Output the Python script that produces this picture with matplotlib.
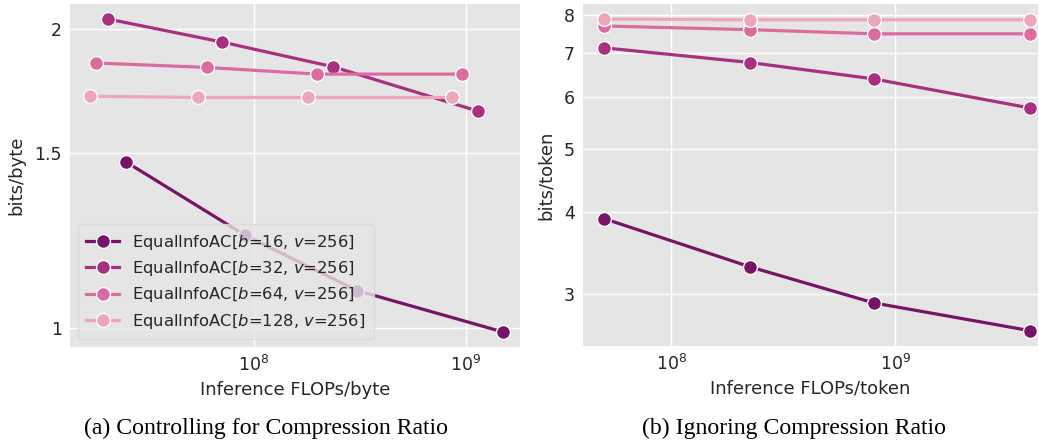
import matplotlib
matplotlib.use("Agg")
import matplotlib.pyplot as plt
from matplotlib.ticker import FixedLocator, NullLocator, FixedFormatter

# ---- data ----
labels = ["EqualInfoAC[$b$=16, $v$=256]", "EqualInfoAC[$b$=32, $v$=256]",
          "EqualInfoAC[$b$=64, $v$=256]", "EqualInfoAC[$b$=128, $v$=256]"]
colors = ['#771467', '#a8307f', '#dc6b9f', '#eea7b9']

# (a) controlling for compression ratio: FLOPs/byte vs bits/byte
a_x_b16 = [2.47e7, 9.07e7, 3.06e8, 1.50e9]
a_y_b16 = [1.471, 1.240, 1.091, 0.991]
a_x_b32 = [2.03e7, 7.06e7, 2.36e8, 1.14e9]
a_y_b32 = [2.048, 1.941, 1.833, 1.654]
a_x_b64 = [1.80e7, 6.00e7, 1.98e8, 9.57e8]
a_y_b64 = [1.849, 1.830, 1.802, 1.802]
a_x_b128 = [1.67e7, 5.45e7, 1.80e8, 8.60e8]
a_y_b128 = [1.712, 1.707, 1.707, 1.707]

# (b) ignoring compression ratio: FLOPs/token vs bits/token
b_x = [5.0e7, 2.25e8, 8.0e8, 3.97e9]
b_y_b16 = [3.908, 3.296, 2.904, 2.634]
b_y_b32 = [7.13, 6.77, 6.39, 5.77]
b_y_b64 = [7.70, 7.60, 7.49, 7.49]
b_y_b128 = [7.89, 7.87, 7.87, 7.87]

a_ticks = [1, 1.5, 2]
a_ticklabels = ["1", "1.5", "2"]
b_ticks = [3, 4, 5, 6, 7, 8]
b_ticklabels = ["3", "4", "5", "6", "7", "8"]

# ---- figure ----
plt.rcParams['font.family'] = ['DejaVu Sans']
txt = '#262626'
fig = plt.figure(figsize=(10.39, 4.42), dpi=100)
axA = fig.add_axes([0.0674, 0.2149, 0.4331, 0.776])
axB = fig.add_axes([0.5611, 0.2172, 0.4380, 0.7738])

def style(ax):
    ax.set_facecolor('#e5e5e5')
    for s in ax.spines.values():
        s.set_visible(False)
    ax.set_xscale('log')
    ax.set_yscale('log')
    ax.grid(True, which='major', color='white', linewidth=1.0)
    ax.set_axisbelow(True)
    ax.tick_params(length=0, labelsize=12.5, colors=txt, pad=6)
    ax.xaxis.set_minor_locator(NullLocator())
    ax.yaxis.set_minor_locator(NullLocator())

kw = dict(marker='o', markersize=10, linewidth=2.3, markeredgecolor='white',
          markeredgewidth=1.0)

style(axA)
a_xs = [a_x_b16, a_x_b32, a_x_b64, a_x_b128]
a_ys = [a_y_b16, a_y_b32, a_y_b64, a_y_b128]
for xs, ys, c, lab in zip(a_xs, a_ys, colors, labels):
    axA.plot(xs, ys, color=c, label=lab, **kw)
axA.set_xlim(1.35e7, 1.806e9)
axA.set_ylim(0.957, 2.12)
axA.yaxis.set_major_locator(FixedLocator(a_ticks))
axA.yaxis.set_major_formatter(FixedFormatter(a_ticklabels))
axA.yaxis.set_minor_locator(NullLocator())
axA.set_xlabel("Inference FLOPs/byte", fontsize=13, color=txt, labelpad=4)
axA.set_ylabel("bits/byte", fontsize=13, color=txt, labelpad=6)
leg = axA.legend(loc='lower left', fontsize=11.8, frameon=True, handlelength=2.0,
                 borderpad=0.5, labelspacing=0.45, bbox_to_anchor=(0.0, 0.0))
leg.get_frame().set_facecolor('#e5e5e5')
leg.get_frame().set_edgecolor('#d8d8d8')
leg.get_frame().set_alpha(0.8)
for t in leg.get_texts():
    t.set_color(txt)

style(axB)
b_ys = [b_y_b16, b_y_b32, b_y_b64, b_y_b128]
for ys, c, lab in zip(b_ys, colors, labels):
    axB.plot(b_x, ys, color=c, label=lab, **kw)
axB.set_xlim(4.03e7, 4.33e9)
axB.set_ylim(2.495, 8.32)
axB.yaxis.set_major_locator(FixedLocator(b_ticks))
axB.yaxis.set_major_formatter(FixedFormatter(b_ticklabels))
axB.yaxis.set_minor_locator(NullLocator())
axB.set_xlabel("Inference FLOPs/token", fontsize=13, color=txt, labelpad=4)
axB.set_ylabel("bits/token", fontsize=13, color=txt, labelpad=6)

fig.text(0.256, 0.018, "(a) Controlling for Compression Ratio",
         family='Liberation Serif', fontsize=17.1, ha='center', va='baseline')
fig.text(0.764, 0.018, "(b) Ignoring Compression Ratio",
         family='Liberation Serif', fontsize=17.1, ha='center', va='baseline')

fig.savefig("out.png", dpi=100)
